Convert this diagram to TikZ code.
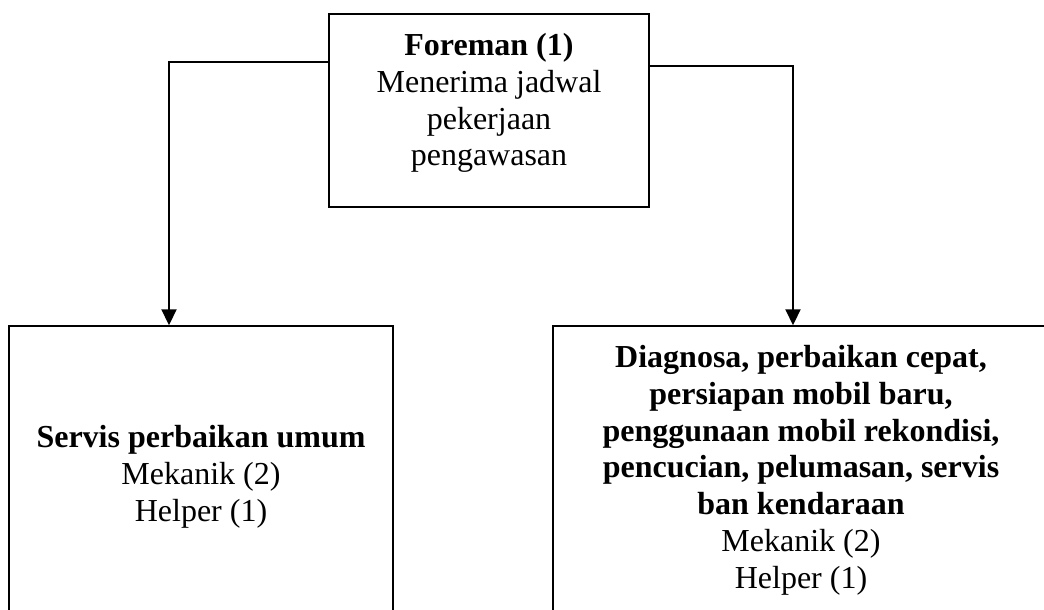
\documentclass[tikz,border=0pt]{standalone}
\usepackage{fontspec}
\setmainfont{Liberation Serif}
\usetikzlibrary{arrows.meta}

\tikzset{
  unitbox/.style={draw=black, line width=1.5pt, rectangle, inner sep=0pt, fill=none},
  boxtext/.style={align=center, inner sep=0pt, anchor=north,
    font=\fontsize{32pt}{36.8pt}\selectfont},
  conn/.style={draw=black, line width=2.2pt,
    -{Triangle[width=15pt,length=16pt]}},
}

\begin{document}
\begin{tikzpicture}[x=1pt, y=-1pt]
  \useasboundingbox (0,0) rectangle (1044,610);
  \clip (0,0) rectangle (1044,610);
  \fill[white] (0,0) rectangle (1044,610);

  % boxes
  \node[unitbox, minimum width=320pt, minimum height=193pt] (foreman) at (489,110.5) {};
  \node[unitbox, minimum width=384pt, minimum height=374pt] (umum) at (201,513) {};
  \node[unitbox, minimum width=496pt, minimum height=374pt] (diag) at (801,513) {};

  % box texts
  \node[boxtext] (foremantxt) at (489,33)
    {\textbf{Foreman (1)}\\Menerima jadwal\\pekerjaan\\pengawasan};
  \node[boxtext] (umumtxt) at (201,425)
    {\textbf{Servis perbaikan umum}\\Mekanik (2)\\Helper (1)};
  \node[boxtext] (diagtxt) at (801,345)
    {\textbf{Diagnosa, perbaikan cepat,}\\\textbf{persiapan mobil baru,}\\
     \textbf{penggunaan mobil rekondisi,}\\\textbf{pencucian, pelumasan, servis}\\
     \textbf{ban kendaraan}\\Mekanik (2)\\Helper (1)};

  % connectors
  \draw[conn] ([yshift=48.5pt]foreman.west) -| ([xshift=-32pt]umum.north);
  \draw[conn] ([yshift=44.5pt]foreman.east) -| ([xshift=-8pt]diag.north);
\end{tikzpicture}
\end{document}
